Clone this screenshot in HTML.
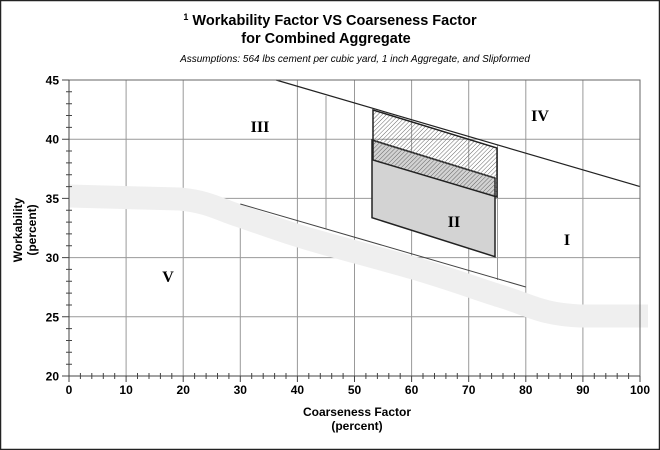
<!DOCTYPE html>
<html><head><meta charset="utf-8"><style>
body{margin:0;background:#fff}
svg{display:block;font-family:"Liberation Sans",sans-serif}
</style></head><body>
<svg width="660" height="450" viewBox="0 0 660 450" xmlns="http://www.w3.org/2000/svg">
<defs>
<pattern id="h" patternUnits="userSpaceOnUse" width="3" height="3" patternTransform="rotate(45)">
<line x1="0" y1="0" x2="0" y2="3" stroke="#555" stroke-width="0.9"/>
</pattern>
</defs>
<rect x="0.5" y="0.5" width="659" height="449" fill="#fff" stroke="#222" stroke-width="1.5"/>
<text x="330" y="25" text-anchor="middle" font-size="14.5" font-weight="bold"><tspan font-size="9" dy="-5">1</tspan><tspan dy="5"> Workability Factor VS Coarseness Factor</tspan></text>
<text x="326" y="43" text-anchor="middle" font-size="14.5" font-weight="bold">for Combined Aggregate</text>
<text x="355" y="62" text-anchor="middle" font-size="10" font-style="italic">Assumptions: 564 lbs cement per cubic yard, 1 inch Aggregate,  and Slipformed</text>
<g stroke="#999" stroke-width="1">
<line x1="69" y1="139.2" x2="640" y2="139.2"/>
<line x1="69" y1="198.4" x2="640" y2="198.4"/>
<line x1="69" y1="257.6" x2="640" y2="257.6"/>
<line x1="69" y1="316.8" x2="640" y2="316.8"/>
<line x1="126.1" y1="80" x2="126.1" y2="376"/>
<line x1="183.2" y1="80" x2="183.2" y2="376"/>
<line x1="240.3" y1="204" x2="240.3" y2="376"/>
<line x1="297.4" y1="80" x2="297.4" y2="376"/>
<line x1="354.5" y1="80" x2="354.5" y2="376"/>
<line x1="411.6" y1="80" x2="411.6" y2="376"/>
<line x1="468.7" y1="80" x2="468.7" y2="376"/>
<line x1="525.8" y1="80" x2="525.8" y2="376"/>
<line x1="582.9" y1="80" x2="582.9" y2="376"/>
<line x1="326" y1="96" x2="326" y2="229"/>
<line x1="497.5" y1="145" x2="497.5" y2="280"/>
</g>
<path d="M69,196 L180,199 C210,202 220,210 240,216 C280,230 300,237 330,245 C370,256 400,264 420,270 C460,282 480,290 500,296 C530,305 540,314 580,316 L648,316" fill="none" stroke="#efefef" stroke-width="23"/>
<polygon points="372,140 495,178 495,256.7 372,217.7" fill="#d3d3d3" stroke="#222" stroke-width="1.5"/>
<polygon points="373,110 497,148 497,197 373,160" fill="url(#h)" stroke="#222" stroke-width="1.5"/>
<line x1="276" y1="80" x2="640" y2="186.6" stroke="#222" stroke-width="1.2"/>
<line x1="240.3" y1="204" x2="525.8" y2="287" stroke="#444" stroke-width="1"/>
<rect x="69" y="80" width="571" height="296" fill="none" stroke="#666" stroke-width="1"/>
<line x1="69" y1="80" x2="69" y2="376" stroke="#444"/>
<line x1="69" y1="376" x2="640" y2="376" stroke="#444"/>
<g stroke="#444" stroke-width="1">
<path d="M66,91.8h6M66,103.7h6M66,115.5h6M66,127.4h6M66,151h6M66,162.9h6M66,174.7h6M66,186.6h6M66,210.2h6M66,222.1h6M66,233.9h6M66,245.8h6M66,269.4h6M66,281.3h6M66,293.1h6M66,305h6M66,328.6h6M66,340.5h6M66,352.3h6M66,364.2h6"/>
<path d="M62,80h7M62,139.2h7M62,198.4h7M62,257.6h7M62,316.8h7M62,376h7"/>
<path d="M80.4,373v6M91.8,373v6M103.3,373v6M114.7,373v6M137.5,373v6M149,373v6M160.4,373v6M171.8,373v6M194.6,373v6M206.1,373v6M217.5,373v6M228.9,373v6M251.7,373v6M263.2,373v6M274.6,373v6M286,373v6M308.8,373v6M320.3,373v6M331.7,373v6M343.1,373v6M365.9,373v6M377.4,373v6M388.8,373v6M400.2,373v6M423,373v6M434.5,373v6M445.9,373v6M457.3,373v6M480.1,373v6M491.6,373v6M503,373v6M514.4,373v6M537.2,373v6M548.7,373v6M560.1,373v6M571.5,373v6M594.3,373v6M605.8,373v6M617.2,373v6M628.6,373v6M69,376v6M126.1,376v6M183.2,376v6M240.3,376v6M297.4,376v6M354.5,376v6M411.6,376v6M468.7,376v6M525.8,376v6M582.9,376v6M640,376v6"/>
</g>
<g font-size="12" font-weight="bold" text-anchor="end">
<text x="59" y="84.5">45</text><text x="59" y="143.7">40</text><text x="59" y="202.9">35</text><text x="59" y="262.1">30</text><text x="59" y="321.3">25</text><text x="59" y="380.5">20</text>
</g>
<g font-size="12" font-weight="bold" text-anchor="middle">
<text x="69" y="394">0</text><text x="126.1" y="394">10</text><text x="183.2" y="394">20</text><text x="240.3" y="394">30</text><text x="297.4" y="394">40</text><text x="354.5" y="394">50</text><text x="411.6" y="394">60</text><text x="468.7" y="394">70</text><text x="525.8" y="394">80</text><text x="582.9" y="394">90</text><text x="640" y="394">100</text>
<text x="357" y="416">Coarseness Factor</text>
<text x="357" y="430">(percent)</text>
</g>
<g font-size="12" font-weight="bold" text-anchor="middle" transform="rotate(-90)">
<text x="-230" y="22">Workability</text>
<text x="-230" y="36">(percent)</text>
</g>
<g font-family="Liberation Serif,serif" font-size="16" font-weight="bold" text-anchor="middle">
<text x="260" y="132">III</text>
<text x="540" y="121">IV</text>
<text x="454" y="227">II</text>
<text x="567" y="245">I</text>
<text x="168" y="282">V</text>
</g>
</svg>
</body></html>
